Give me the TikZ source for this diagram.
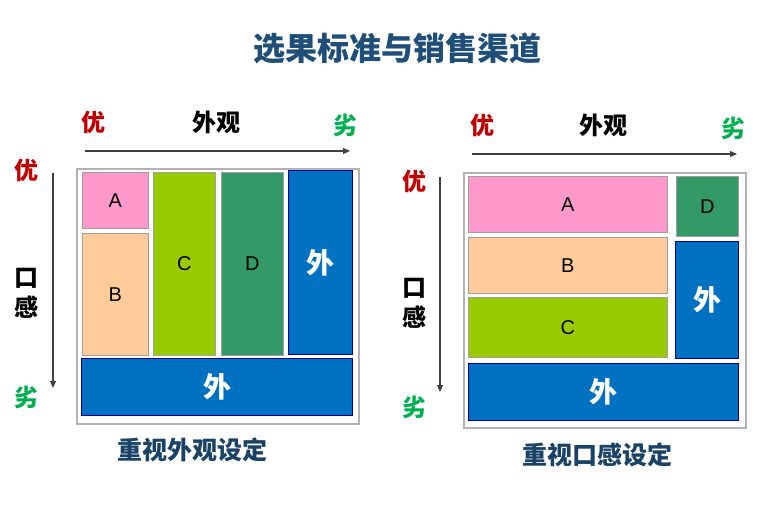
\documentclass[tikz,border=0pt]{standalone}
\usepackage{fontspec}
\setsansfont{Liberation Sans}
\newfontfamily\cjk{Noto Sans CJK SC}
\usetikzlibrary{arrows.meta}
\definecolor{tblue}{HTML}{1F4E79}
\definecolor{cred}{HTML}{C00000}
\definecolor{cgreen}{HTML}{00B050}
\definecolor{cpink}{HTML}{FF99CC}
\definecolor{cpeach}{HTML}{FFCC99}
\definecolor{clime}{HTML}{99CC00}
\definecolor{cdgreen}{HTML}{339966}
\definecolor{cblue}{HTML}{0070C0}
\tikzset{
  cell/.style={draw=gray!75,line width=0.8pt,inner sep=0pt,anchor=north west,font=\sffamily\fontsize{20}{20}\selectfont},
  waibox/.style={cell,fill=cblue,draw=blue!55!black,line width=1.3pt,text=white,font=\cjk\bfseries\fontsize{28}{28}\selectfont},
  frame/.style={draw=gray!60,line width=1.5pt,inner sep=0pt,anchor=north west},
  axis/.style={-{Triangle[length=7pt,width=6pt]},line width=1.1pt,gray!50!black},
  lbl/.style={font=\cjk\bfseries\fontsize{24}{24}\selectfont}
}
\begin{document}
\begin{tikzpicture}[x=1pt,y=-1pt]
\useasboundingbox (0,0) rectangle (778,504);
\node[font=\cjk\bfseries\fontsize{32}{32}\selectfont,text=tblue] (title) at (397,48) {选果标准与销售渠道};
% left: appearance first
\node[frame,minimum width=282pt,minimum height=255pt] (lframe) at (76,168) {};
\foreach \nm/\x/\y/\w/\h/\col/\txt in {lA/82/172/66/56/cpink/A,lB/82/233/66/122/cpeach/B,lC/153/172/62/183/clime/C,lD/221/172/62/183/cdgreen/D} {
  \node[cell,fill=\col,minimum width=\w pt,minimum height=\h pt] (\nm) at (\x,\y) {\txt};
}
\node[waibox,minimum width=64pt,minimum height=184pt] (lW1) at (288,170) {外};
\node[waibox,minimum width=271pt,minimum height=57pt] (lW2) at (81,358) {外};
\coordinate (lh0) at (85,151); \coordinate (lh1) at (350,151);
\coordinate (lv0) at (53,173); \coordinate (lv1) at (53,388);
\draw[axis] (lh0) -- (lh1);
\draw[axis] (lv0) -- (lv1);
\node[lbl,text=cred] (lgoodx) at (93,122) {优};
\node[lbl] (lxname) at (216,122) {外观};
\node[lbl,text=cgreen] (lbadx) at (345,125) {劣};
\node[lbl,text=cred] (lgoody) at (26,170) {优};
\node[lbl] (lyname1) at (26,278) {口};
\node[lbl] (lyname2) at (26,307) {感};
\node[lbl,text=cgreen] (lbady) at (26,397) {劣};
\node[font=\cjk\bfseries\fontsize{25}{25}\selectfont,text=tblue!85!black] (lcap) at (192,450) {重视外观设定};
% right: taste first
\node[frame,minimum width=282pt,minimum height=255pt] (rframe) at (463,172) {};
\foreach \nm/\x/\y/\w/\h/\col/\txt in {rA/468/176/199/56/cpink/A,rB/468/237/199/56/cpeach/B,rC/468/297/199/60/clime/C,rD/676/176/62/60/cdgreen/D} {
  \node[cell,fill=\col,minimum width=\w pt,minimum height=\h pt] (\nm) at (\x,\y) {\txt};
}
\node[waibox,minimum width=63pt,minimum height=117pt] (rW1) at (675,241) {外};
\node[waibox,minimum width=270pt,minimum height=57pt] (rW2) at (468,363) {外};
\coordinate (rh0) at (472,154); \coordinate (rh1) at (737,154);
\coordinate (rv0) at (440,177); \coordinate (rv1) at (440,392);
\draw[axis] (rh0) -- (rh1);
\draw[axis] (rv0) -- (rv1);
\node[lbl,text=cred] (rgoodx) at (482,125) {优};
\node[lbl] (rxname) at (603,125) {外观};
\node[lbl,text=cgreen] (rbadx) at (733,128) {劣};
\node[lbl,text=cred] (rgoody) at (414,181) {优};
\node[lbl] (ryname1) at (414,288) {口};
\node[lbl] (ryname2) at (414,317) {感};
\node[lbl,text=cgreen] (rbady) at (414,407) {劣};
\node[font=\cjk\bfseries\fontsize{25}{25}\selectfont,text=tblue!85!black] (rcap) at (597,455) {重视口感设定};
\end{tikzpicture}
\end{document}
